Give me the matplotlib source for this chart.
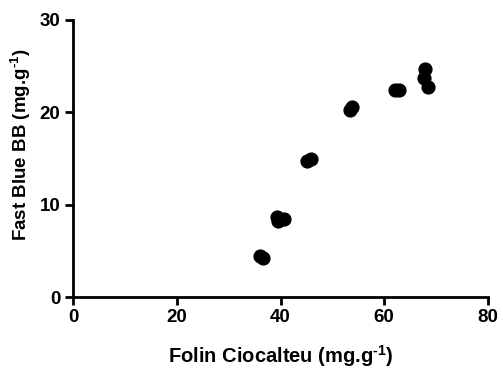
import matplotlib
matplotlib.use("Agg")
import matplotlib.pyplot as plt

plt.rcParams['font.family'] = ['Liberation Sans', 'DejaVu Sans']
plt.rcParams['font.weight'] = 'bold'
plt.rcParams['mathtext.fontset'] = 'custom'
plt.rcParams['mathtext.rm'] = 'Liberation Sans:bold'
plt.rcParams['mathtext.bf'] = 'Liberation Sans:bold'

folin = [36.0, 36.6, 39.4, 39.6, 40.6, 45.1, 45.8, 53.4, 53.8, 62.0, 62.8, 67.6, 67.9, 68.4]
fastblue = [4.4, 4.2, 8.7, 8.2, 8.4, 14.7, 15.0, 20.3, 20.6, 22.4, 22.4, 23.7, 24.7, 22.7]

xticks = [0, 20, 40, 60, 80]
yticks = [0, 10, 20, 30]

fig = plt.figure(figsize=(5.03, 3.68), dpi=100)
ax = fig.add_axes([73/503, 1-297/368, (488-73)/503, (297-20)/368])
ax.scatter(folin, fastblue, s=85, color='black', zorder=3, clip_on=False)
ax.set_xlim(0, 80)
ax.set_ylim(0, 30)
ax.set_xticks(xticks)
ax.set_yticks(yticks)
for s in ['top', 'right']:
    ax.spines[s].set_visible(False)
for s in ['left', 'bottom']:
    ax.spines[s].set_linewidth(2)
ax.tick_params(width=2, length=6, labelsize=13.5, pad=3)
for lab in ax.get_xticklabels() + ax.get_yticklabels():
    lab.set_fontweight('bold')
ax.set_xlabel('Folin Ciocalteu (mg.g$^{\\mathrm{\u2010}1}$)', fontsize=14.5, fontweight='bold', labelpad=12)
ax.set_ylabel('Fast Blue BB (mg.g$^{\\mathrm{\u2010}1}$)', fontsize=13.5, fontweight='bold')
ax.yaxis.set_label_coords(-0.097, 0.55)
fig.savefig('out.png', dpi=100)
